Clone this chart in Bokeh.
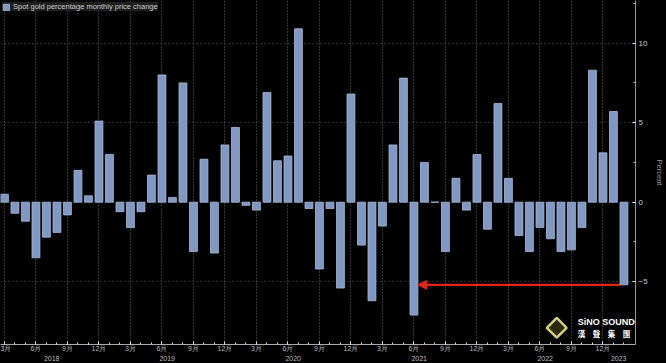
import pandas as pd
from bokeh.plotting import figure
from bokeh.models import (ColumnDataSource, FixedTicker, Range1d, Label, Arrow,
                          NormalHead, LinearAxis)
from bokeh.embed import file_html
from bokeh.resources import INLINE

# ---- data -------------------------------------------------------------
months = [p.strftime("%Y-%m") for p in pd.period_range("2018-03", "2023-02", freq="M")]
change = [
    0.5, -0.7, -1.2, -3.5, -2.2, -1.9, -0.8, 2.0, 0.4, 5.1,               # 2018 Mar-Dec
    3.0, -0.6, -1.6, -0.6, 1.7, 8.0, 0.3, 7.5, -3.1, 2.7, -3.2, 3.6,      # 2019
    4.7, -0.2, -0.5, 6.9, 2.6, 2.9, 10.9, -0.4, -4.2, -0.4, -5.4, 6.8,    # 2020
    -2.7, -6.2, -1.5, 3.6, 7.8, -7.1, 2.5, 0.0, -3.1, 1.5, -0.5, 3.0,     # 2021
    -1.7, 6.2, 1.5, -2.1, -3.1, -1.6, -2.3, -3.1, -3.0, -1.6, 8.3, 3.1,   # 2022
    5.7, -5.2,                                                            # 2023 Jan-Feb
]
month_names = {3: "3月", 6: "6月", 9: "9月", 12: "12月"}
years = ["2018", "2019", "2020", "2021", "2022", "2023"]
y_major = [-5, 0, 5, 10]
y_minor = [-7.5, -2.5, 2.5, 7.5, 12.5]
series_name = "Spot gold percentage monthly price change"
arrow_from, arrow_to = "2023-02", "2021-06"

# ---- figure -----------------------------------------------------------
idx = list(range(len(months)))
src = ColumnDataSource(dict(x=idx, top=change, month=months))

BAR_W = 0.75
p = figure(width=666, height=363, output_backend="svg", toolbar_location=None,
           x_range=Range1d(-0.377, 60.1), y_range=Range1d(-8.95, 12.68),
           y_axis_location="right",
           background_fill_color="black", border_fill_color="black",
           outline_line_color=None,
           min_border_left=0, min_border_top=0, min_border_bottom=18, min_border_right=25)

p.vbar(x="x", top="top", bottom=0, width=BAR_W, source=src,
       fill_color="#8199c2", line_color="#a9bbdb", line_width=0.8,
       legend_label=series_name)

# x axis (months)
quarter_idx = [i for i, m in enumerate(months) if int(m[5:]) % 3 == 0]
xa = p.xaxis[0]
xa.ticker = FixedTicker(ticks=quarter_idx, minor_ticks=idx)
xa.major_label_overrides = {i: month_names[int(months[i][5:])] for i in quarter_idx}
xa.major_label_text_font = "Liberation Sans"
xa.major_label_text_font_size = "7px"
xa.major_label_text_color = "#bbbbbb"
xa.major_label_standoff = 0
xa.major_tick_in = 3
xa.major_tick_out = 0
xa.minor_tick_in = 2
xa.minor_tick_out = 0
xa.axis_line_color = "#aaaaaa"
xa.major_tick_line_color = "#dddddd"
xa.minor_tick_line_color = "#dddddd"

# second x axis (years)
year_centers = []
year_map = {}
for y in years:
    ii = [i for i, m in enumerate(months) if m.startswith(y)]
    c = sum(ii) / len(ii)
    year_centers.append(c)
    year_map[c] = y
ya2 = LinearAxis(ticker=FixedTicker(ticks=year_centers, minor_ticks=[]),
                 major_label_overrides=year_map,
                 major_label_text_font="Liberation Sans",
                 major_label_text_font_size="7px",
                 major_label_text_color="#bbbbbb",
                 major_label_standoff=1,
                 major_tick_in=0, major_tick_out=0,
                 minor_tick_in=0, minor_tick_out=0,
                 axis_line_color=None)
p.add_layout(ya2, "below")

# y axis (right)
p.yaxis.ticker = FixedTicker(ticks=y_major, minor_ticks=y_minor)
p.yaxis.major_label_text_font = "Liberation Sans"
p.yaxis.major_label_text_font_size = "8px"
p.yaxis.major_label_text_color = "#cccccc"
p.yaxis.major_label_standoff = 3
p.yaxis.major_tick_in = 3
p.yaxis.major_tick_out = 0
p.yaxis.minor_tick_in = 2
p.yaxis.minor_tick_out = 0
p.yaxis.axis_line_color = "#999999"
p.yaxis.major_tick_line_color = "#eeeeee"
p.yaxis.minor_tick_line_color = "#bbbbbb"
p.yaxis.axis_label = "Percent"
p.yaxis.axis_label_text_font = "Liberation Sans"
p.yaxis.axis_label_text_font_size = "7.5px"
p.yaxis.axis_label_text_font_style = "normal"
p.yaxis.axis_label_text_color = "#999999"
p.yaxis.axis_label_standoff = 4

# grids
p.xgrid.ticker = FixedTicker(ticks=quarter_idx)
p.xgrid.grid_line_color = "#6a6a6a"
p.xgrid.grid_line_dash = "1 2"
p.ygrid.grid_line_color = "#555555"
p.ygrid.grid_line_dash = "1 3"

# red arrow annotation
ia, ib = months.index(arrow_from), months.index(arrow_to)
yv = change[ia]
p.add_layout(Arrow(end=NormalHead(size=9, fill_color="#e3241b", line_color="#e3241b"),
                   x_start=ia - BAR_W / 2, y_start=yv,
                   x_end=ib + BAR_W / 2, y_end=yv,
                   line_color="#e3241b", line_width=2.2))

# legend
lg = p.legend[0]
lg.location = "top_left"
lg.margin = 2
lg.padding = 3
lg.spacing = 0
lg.glyph_width = 8
lg.glyph_height = 8
lg.label_height = 8
lg.label_standoff = 3
lg.label_text_font = "Liberation Sans"
lg.label_text_font_size = "7.5px"
lg.label_text_color = "#cccccc"
lg.background_fill_color = "#1e1e1e"
lg.background_fill_alpha = 1
lg.border_line_color = None

# watermark
p.add_layout(Label(x=54.6, y=-7.55, text="SiNO SOUND", text_baseline="middle",
                   text_font="Liberation Sans", text_font_style="bold",
                   text_font_size="9px", text_color="white"))
p.add_layout(Label(x=54.6, y=-8.25, text="漢　聲　集　團", text_baseline="middle",
                   text_font="Noto Sans CJK SC", text_font_style="bold",
                   text_font_size="7.5px", text_color="white"))
p.scatter(x=[52.6], y=[-7.9], marker="square", angle=0.785, size=14,
          fill_color="#2a2a10", line_color="#d8cc80", line_width=2.5)

html = file_html(p, INLINE)
html = html.replace("<head>", "<head><style>html,body{margin:0;padding:0;background:#000;overflow:hidden}</style>", 1)
open("out.html", "w").write(html)
